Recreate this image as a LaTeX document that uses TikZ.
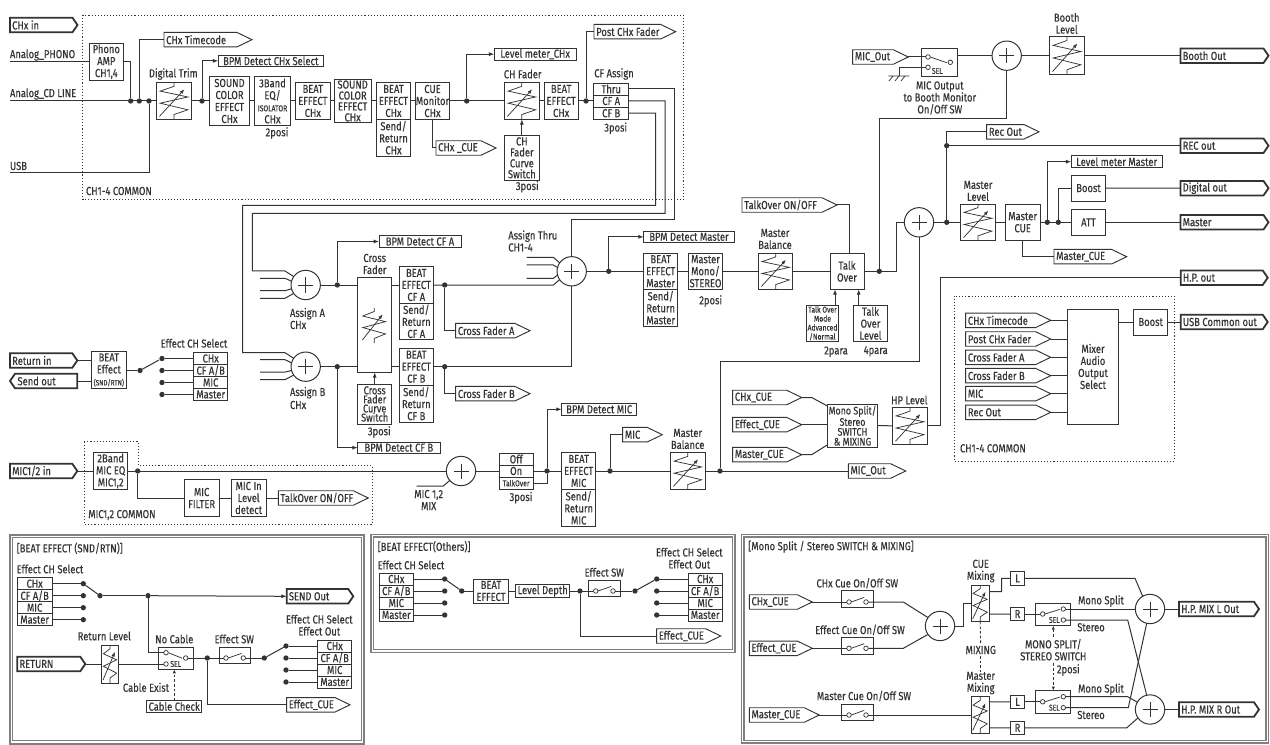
\documentclass[tikz,border=0pt]{standalone}
\usepackage{fontspec}
\setmainfont{Fira Sans}[FakeStretch=0.81,FakeBold=0.25]
\usetikzlibrary{arrows.meta,calc}
\definecolor{ink}{gray}{0.2}
\definecolor{frm}{gray}{0.5}
\newcommand\fn{\fontsize{8.7}{9}\selectfont}
\newcommand\fs{\fontsize{6.3}{6.75}\selectfont}
\newcommand\fa{\fontsize{8.7}{8.2}\selectfont}
\newcommand\fb{\fontsize{8.5}{6.8}\selectfont}
\tikzset{
 every node/.style={font=\fn,text=ink,inner sep=0pt,outer sep=0pt},
 bx/.style={draw=ink,line width=.7pt,fill=white,align=center},
 lb/.style={align=center},
 ln/.style={draw=ink,line width=.75pt},
 ar/.style={ln,-{Latex[length=4pt,width=3pt]}},
 zz/.style={draw=ink,line width=.55pt},
 tgi/.style={draw=ink,line width=.7pt,fill=white,line join=miter},
 tgo/.style={draw=ink,line width=1.35pt,fill=white,line join=miter},
 jn/.style={circle,fill=ink,minimum size=4pt},
 cc/.style={circle,draw=ink,line width=.55pt,fill=white,minimum size=3.4pt},
 sumc/.style={circle,draw=ink,line width=.75pt,fill=white,minimum size=22pt},
 dot/.style={draw=ink,line width=.7pt,dash pattern=on .8pt off 1.5pt},
 dsh/.style={draw=ink,line width=.65pt,dash pattern=on 2pt off 1.5pt},
 frame/.style={draw=frm,line width=.9pt},
}
\newcounter{lbc}
\newcommand\Lb[4][]{\stepcounter{lbc}\node[lb,#1] (lb\arabic{lbc}) at ({#2},{#3}) {#4};}
\newcommand\Bx[7][]{\node[bx,minimum width={((#5)-(#3))*.75pt},minimum height={((#6)-(#4))*.75pt},#1] (#2) at ({((#3)+(#5))/2},{((#4)+(#6))/2}) {#7};}
\newcommand\Zig[4]{\begin{scope}[shift={(#1,#2)},xscale=#3-#1,yscale=#4-#2]
 \draw[zz,line join=miter] (.5,0)--(.5,.1)--(.1,.23)--(.9,.39)--(.1,.56)--(.9,.74)--(.5,.87)--(.5,1);
 \draw[zz,-{Latex[length=3.5pt,width=2.6pt]}] (.08,.92)--(.8,.18);
\end{scope}}
\newcommand\Fdr[5]{\Bx{#1}{#2}{#3}{#4}{#5}{}\Zig{#2}{#3}{#4}{#5}}
% tag pointing right: opt style, name, x1, yc, x2, point length, text
\newcommand\Tag[7][tgi]{\node[minimum width={(#5-#3)*.75pt},minimum height=10.9pt] (#2) at ({(#3+#5)/2},{#4}) {};
 \draw[#1] (#3,#4-7.25)--(#5-#6,#4-7.25)--(#5,#4)--(#5-#6,#4+7.25)--(#3,#4+7.25)--cycle;
 \node[anchor=west] (#2-t) at (#3+2.2,#4) {#7};}
\newcommand\TagI[5]{\Tag[tgi]{#1}{#2}{#3}{#4}{15}{#5}}
\newcommand\TagO[5]{\Tag[tgo]{#1}{#2}{#3}{#4}{5}{#5}}
\newcommand\Jn[3]{\node[jn] (#1) at ({#2},{#3}) {};}
\newcommand\Cc[3]{\node[cc] (#1) at ({#2},{#3}) {};}
\newcommand\Sm[3]{\node[sumc] (#1) at ({#2},{#3}) {};\draw[ln] (#2-7.5,#3)--(#2+7.5,#3) (#2,#3-7.5)--(#2,#3+7.5);}
% selector: prefix,x1,x2,y0
\newcommand\SelB[4]{\Bx{#1a}{#2}{#4}{#3}{#4+12}{CHx}\Bx{#1b}{#2}{#4+12}{#3}{#4+24}{CF A/B}\Bx{#1c}{#2}{#4+24}{#3}{#4+36}{MIC}\Bx{#1d}{#2}{#4+36}{#3}{#4+48}{Master}}
% dots for selector: prefix, xdot, side of box
\newcommand\SelD[3]{\foreach \k in {a,b,c,d}{\node[jn] (#1j\k) at (#1\k.#3 -| #2,0) {};\draw[ln] (#1j\k) -- (#1\k.#3);}}
% plain on/off switch: name,x1,y1,x2,y2,yc,xa,xb
\newcommand\Sw[8]{\Bx{#1}{#2}{#3}{#4}{#5}{}\Cc{#1a}{#7}{#6}\Cc{#1b}{#8}{#6}\draw[zz] (#1a.east)--($(#1b)+(-1.8,-4.6)$);}
\begin{document}
\begin{tikzpicture}[x=.75pt,y=-.75pt]
\useasboundingbox (0,0) rectangle (1270,745);
\fill[white] (0,0) rectangle (1270,745);
% dotted regions
\draw[dot] (82.5,15) rectangle (683.5,199.5);
\draw[dot] (954.7,296) rectangle (1174.3,461);
\draw[dot] (84.3,441.7)--(138.3,441.7)--(138.3,465.7)--(372.3,465.7)--(372.3,524)--(84.3,524)--cycle;
\Lb[anchor=west]{86}{191}{CH1-4 COMMON}
\Lb[anchor=west]{960}{448.3}{CH1-4 COMMON}
\Lb[anchor=west]{88.3}{515}{MIC1,2 COMMON}
%===== top row =====
\TagO{chin}{10}{25}{77.5}{CHx in}
\Lb[anchor=west]{10}{55}{Analog\_PHONO}
\Lb[anchor=west]{10}{94}{Analog\_CD LINE}
\Lb[anchor=west]{10}{166}{USB}
\coordinate (aph) at (10,61.7);\coordinate (acd) at (10,101);\coordinate (aus) at (10,172.3);
\Bx{phono}{89.3}{43.3}{123.3}{80.1}{Phono\\AMP\\CH1,4}
\Lb{173.3}{74}{Digital Trim}
\Fdr{trim}{156.7}{82.7}{191.3}{119.3}
\TagI{tc}{164}{39.7}{252}{CHx Timecode}
\Bx{bpm1}{218.3}{55}{323.3}{66.7}{BPM Detect CHx Select}
\Bx{sc1}{209.7}{76.7}{249.3}{125.3}{SOUND\\COLOR\\EFFECT\\CHx}
\Bx{eq}{254.3}{76.7}{290.7}{125.3}{3Band\\EQ/\\{\fs ISOLATOR}\\CHx}
\Lb{277}{133}{2posi}
\Bx{be1}{295.7}{82.7}{330}{119.3}{BEAT\\EFFECT\\CHx}
\Bx[font=\fa]{sc2}{334.3}{79.3}{371}{122.7}{SOUND\\COLOR\\EFFECT\\CHx}
\Bx{be2}{376.3}{82.7}{410.7}{119.3}{BEAT\\EFFECT\\CHx}
\Bx{sr2}{376.3}{119.3}{410.7}{156}{Send/\\Return\\CHx}
\Bx{cue}{415.3}{82.7}{449.7}{119.3}{CUE\\Monitor\\CHx}
\Bx{lm}{494.3}{48.3}{576}{60}{Level meter\_CHx}
\TagI{chcue}{436}{148}{496}{CHx \_CUE}
\Lb{522.7}{74}{CH Fader}
\Fdr{chf}{504.7}{82.7}{539}{119.3}
\Bx[font=\fa]{curve}{504.7}{135.7}{539}{180}{CH\\Fader\\Curve\\Switch}
\Lb{527.3}{186.7}{3posi}
\Bx{be3}{544}{82.7}{578.3}{119.3}{BEAT\\EFFECT\\CHx}
\TagI{post}{594}{31.7}{675.7}{Post CHx Fader}
\Lb{614}{74}{CF Assign}
\Bx{cft}{593.7}{83}{628.7}{95}{Thru}
\Bx{cfa}{593.7}{95}{628.7}{107}{CF A}
\Bx{cfb}{593.7}{107}{628.7}{119.5}{CF B}
\Lb{615.7}{128.3}{3posi}
\Jn{j1}{130.7}{101}\Jn{j2}{139.3}{101}\Jn{j3}{149}{101}\Jn{j4}{202}{101}\Jn{j5}{466.7}{101}\Jn{j6}{586}{101}
\draw[ln] (aph)--(phono.west);
\draw[ln] (acd)--(trim.west);
\draw[ln] (phono.east)-|(j1);
\draw[ln] (j2)|-(tc.west);
\draw[ln] (aus)-|(j3);
\draw[ln] (trim.east)--(sc1.west);
\draw[ar] (j4)|-(bpm1.west);
\draw[ln] (sc1.east)--(eq.west);
\draw[ln] (eq.east)--(be1.west);
\draw[ln] (be1.east)--(sc2.west);
\draw[ln] (sc2.east)--(be2.west);
\draw[ln] (be2.east)--(cue.west);
\draw[ln] (cue.east)--(chf.west);
\draw[ar] (j5)|-(lm.west);
\draw[ln] (cue.south)|-(chcue.west);
\draw[ar] (curve.north)--(chf.south);
\draw[ln] (chf.east)--(be3.west);
\draw[ln] (be3.east)--(cfa.west);
\draw[ln] (j6)|-(post.west);
%===== second row =====
\Sm{sa}{305.7}{285}\Sm{sb}{305.7}{366.7}\Sm{st}{571.7}{271.3}
\draw[ln] (cft.east)-|(674,220)-|(st.north);
\draw[ln] (cfa.east)-|(665,213.3)-|(252.3,271)--(285,271)--(sa.145);
\draw[ln] (cfb.east)-|(655.7,205.3)-|(242.7,352.7)--(285,352.7)--(sb.145);
\draw[ln] (260,278.3)--(285,278.3)--(sa.165);
\draw[ln] (260,290.7)--(285,290.7)--(sa.195);
\draw[ln] (260,298.3)--(285,298.3)--(sa.215);
\draw[ln] (260,359.7)--(285,359.7)--(sb.165);
\draw[ln] (260,372.1)--(285,372.1)--(sb.195);
\draw[ln] (260,379.7)--(285,379.7)--(sb.215);
\draw[ln] (526.7,257.3)--(553.3,257.3)--(st.145);
\draw[ln] (526.7,265)--(553.3,265)--(st.165);
\draw[ln] (526.7,278.3)--(553.3,278.3)--(st.195);
\Lb[anchor=west,align=left]{290}{318.5}{Assign A\\CHx}
\Lb[anchor=west]{290}{392.7}{Assign B}
\Lb[anchor=west]{290}{405}{CHx}
\Lb[anchor=west,align=left]{508.3}{241}{Assign Thru\\CH1-4}
\Lb{374.7}{264}{Cross\\Fader}
\Bx{cross}{357.7}{277.3}{391.7}{372.3}{}
\Zig{360}{308}{388.3}{343}
\Bx[font=\fb]{ccs}{357.7}{384}{391.7}{424}{Cross\\Fader\\Curve\\Switch}
\Lb{379.3}{432}{3posi}
\Bx{bpma}{379}{235.7}{461}{247.3}{BPM Detect CF A}
\Bx{bpmb}{357.7}{442}{440}{453.3}{BPM Detect CF B}
\Bx{ba}{399.3}{266.7}{433.3}{303.3}{BEAT\\EFFECT\\CF A}
\Bx{sra}{399.3}{303.3}{433.3}{339.3}{Send/\\Return\\CF A}
\Bx{bb}{399.3}{348.4}{433.3}{385}{BEAT\\EFFECT\\CF B}
\Bx{srb}{399.3}{385}{433.3}{422}{Send/\\Return\\CF B}
\TagI{cfta}{455.7}{330.7}{530}{Cross Fader A}
\TagI{cftb}{455.7}{393.7}{530}{Cross Fader B}
\Jn{ja}{337.3}{285}\Jn{jb}{337.3}{366.7}\Jn{jca}{444.7}{285}\Jn{jcb}{444.7}{366.7}\Jn{jm1}{608.7}{271.3}
\draw[ln] (sa.east)--(sa.east-|cross.west);
\draw[ln] (sb.east)--(sb.east-|cross.west);
\draw[ar] (ja)|-(bpma.west);
\draw[ar] (jb)|-(bpmb.west);
\draw[ar] (ccs.north)--(cross.south);
\draw[ln] (cross.east|-ba.west)--(ba.west);
\draw[ln] (cross.east|-bb.west)--(bb.west);
\draw[ln] (ba.east)--(553.3,285)--(st.215);
\draw[ln] (bb.east)-|(st.south);
\draw[ln] (jca)|-(cfta.west);
\draw[ln] (jcb)|-(cftb.west);
\Bx{bpmm}{643.7}{231}{734.3}{242.7}{BPM Detect Master}
\Bx{bm}{643.7}{253.3}{677.7}{289.3}{BEAT\\EFFECT\\Master}
\Bx{srm}{643.7}{289.3}{677.7}{326}{Send/\\Return\\Master}
\Bx{mono}{688.3}{253.3}{722.7}{289.3}{Master\\Mono/\\STEREO}
\Lb{710.7}{301}{2posi}
\Lb{775}{239}{Master\\Balance}
\Fdr{mbal}{758.7}{253.3}{792.7}{289.3}
\Bx{over}{830}{253.3}{864}{289.3}{Talk\\Over}
\TagI{tooo}{742}{205}{837}{TalkOver ON/OFF}
\Bx[font=\fs]{tom}{806.7}{305}{838.3}{341.7}{Talk Over\\Mode\\Advanced\\/Normal}
\Lb{836}{351.7}{2para}
\Bx{tol}{853.3}{305}{887.7}{341.7}{Talk\\Over\\Level}
\Lb{875.7}{351.3}{4para}
\Jn{jt}{879.3}{271.3}
\draw[ln] (st.east)--(bm.west);
\draw[ar] (jm1)|-(bpmm.west);
\draw[ln] (bm.east)--(mono.west);
\draw[ln] (mono.east)--(mbal.west);
\draw[ln] (mbal.east)--(over.west);
\draw[ln] (tooo.east)-|(over.north-|849,0);
\draw[ar] (tom.north-|835,0)--(over.south-|835,0);
\draw[ar] (tol.north-|858.7,0)--(over.south-|858.7,0);
%===== booth / master =====
\TagI{mico}{852.7}{57}{908.3}{MIC\_Out}
\Bx{bsw}{921.3}{48.3}{957.3}{76.7}{}
\Cc{bswa}{928}{57}\Cc{bswb}{950.3}{62.3}\Cc{bswc}{928}{67.3}
\draw[zz] (bswa.east)--($(bswb)+(-3.6,.4)$);
\node[font=\fs] (bsel) at (937.3,71) {SEL};
\Lb{939.8}{98}{MIC Output\\to Booth Monitor\\On/Off SW}
\coordinate (gnd) at (899.3,76);
\draw[ln] (bswc.west)-|(gnd);
\draw[zz] (888.3,76)--(909.3,76) (889,81)--(893,76) (895,81)--(899,76) (901,81)--(905,76);
\Sm{bsum}{1006.7}{55.7}
\Lb{1066.7}{23.4}{Booth\\Level}
\Fdr{blev}{1049.7}{36.7}{1084.3}{74.7}
\TagO{bout}{1180.5}{55.7}{1268.5}{Booth Out}
\draw[ln] (mico.east)--(bswa.west);
\draw[ln] (bsw.east|-bsum.west)--(bsum.west);
\draw[ln] (bsum.east)--(blev.west);
\draw[ln] (blev.east)--(bout.west);
\Sm{ms}{919}{222.3}
\Lb{978}{191}{Master\\Level}
\Fdr{mlev}{960.7}{204}{995.3}{240.6}
\Bx{mcue}{1005.3}{204}{1040}{240.6}{Master\\CUE}
\TagI{reco}{986.7}{131.8}{1039}{Rec Out}
\TagO{recb}{1180.5}{145.7}{1268.5}{REC out}
\Bx{lmm}{1071.3}{155.7}{1162}{167.7}{Level meter Master}
\Bx{boost}{1071.3}{175}{1105.7}{201.3}{Boost}
\Bx{att}{1071.3}{209.3}{1105.7}{235.3}{ATT}
\TagO{dig}{1180.5}{188.2}{1268.5}{Digital out}
\TagO{mast}{1180.5}{222.3}{1268.5}{Master}
\TagI{mcu}{1054}{256.7}{1126.7}{Master\_CUE}
\Jn{jr}{946.7}{222.3}\Jn{jrec}{946.7}{145.7}\Jn{jb1}{1047.3}{222.3}\Jn{jb2}{1058.3}{222.3}
\draw[ln] (over.east)-|(896,222.3)--(ms.west);
\draw[ln] (jt)|-(1006.7,119)--(bsum.south);
\draw[ln] (ms.east)--(mlev.west);
\draw[ln] (jr)--(jrec);
\draw[ln] (jrec)|-(reco.west);
\draw[ln] (jrec)--(recb.west);
\draw[ln] (mlev.east)--(mcue.west);
\draw[ln] (mcue.east)--(att.west);
\draw[ar] (jb1)|-(lmm.west);
\draw[ln] (jb2)|-(boost.west);
\draw[ln] (boost.east)--(dig.west);
\draw[ln] (att.east)--(mast.west);
\draw[ln] (mcue.south)|-(mcu.west);
%===== effect select left =====
\TagO{retin}{10}{360.5}{77.3}{Return in}
\draw[tgo] (15,373.8)--(77.3,373.8)--(77.3,388.3)--(15,388.3)--(10,381)--cycle;
\node[minimum width=50pt,minimum height=10.9pt] (sndo) at (43.6,381) {};
\node[anchor=west] (sndo-t) at (17.5,381) {Send out};
\Bx[font=\fn]{bfx}{91.7}{351.7}{126}{388.3}{BEAT\\Effect\\{\fontsize{5.8}{6.75}\selectfont(SND/RTN)}}
\Lb{194}{343.3}{Effect CH Select}
\SelB{ecs}{193.7}{227.7}{352.5}
\SelD{ecs}{162}{west}
\Jn{jfx}{140}{370.5}
\draw[ln] (retin.east)--(bfx.west|-retin.east);
\draw[ln] (sndo.east)--(bfx.west|-sndo.east);
\draw[ln] (bfx.east|-jfx)--(jfx);
\draw[ln] (jfx)--(159,360);
%===== MIC row =====
\TagO{micin}{10}{471}{77.3}{MIC1/2 in}
\Bx{eq2}{93.7}{452.7}{127.7}{489.3}{2Band\\MIC EQ\\MIC1,2}
\Bx{flt}{184.3}{479.3}{219}{516.7}{MIC\\FILTER}
\Bx{det}{231.3}{479.3}{266}{516.7}{MIC In\\Level\\detect}
\TagI{too2}{278.3}{498}{368.3}{TalkOver ON/OFF}
\Sm{sm}{461}{471}
\Lb{428.7}{500}{MIC 1,2\\MIX}
\coordinate (mstub) at (416.7,486);
\Bx{off}{499}{453}{533.3}{465}{Off}
\Bx{on}{499}{465}{533.3}{477}{On}
\Bx[font=\fs]{tko}{499}{477}{533.3}{489.3}{TalkOver}
\Lb{521}{497.7}{3posi}
\Bx{bpmc}{561.7}{403.3}{636.7}{415.3}{BPM Detect MIC}
\Bx{bmic}{561.7}{452.7}{595.7}{489.3}{BEAT\\EFFECT\\MIC}
\Bx{srmic}{561.7}{489.3}{595.7}{526.3}{Send/\\Return\\MIC}
\TagI{mict}{622.7}{434.7}{662.3}{MIC}
\Lb{687.7}{439}{Master\\Balance}
\Fdr{mb2}{670.7}{452.7}{705}{489.3}
\TagI{mico2}{848.3}{471}{905.7}{MIC\_Out}
\Jn{jeq}{137.7}{471}\Jn{jo}{547}{471}\Jn{jmic}{610}{471}\Jn{jm}{720}{471}
\draw[ln] (micin.east)--(eq2.west);
\draw[ln] (eq2.east)--(sm.west);
\draw[ln] (jeq)|-(flt.west);
\draw[ln] (flt.east)--(det.west);
\draw[ln] (det.east)--(too2.west);
\draw[ln] (mstub)--(443.3,486)--(sm.220);
\draw[ln] (sm.east)--(on.west);
\draw[ln] (on.east)--(bmic.west);
\draw[ln] (tko.east)-|(jo);
\draw[ar] (jo)|-(bpmc.west);
\draw[ln] (bmic.east)--(mb2.west);
\draw[ln] (jmic)|-(mict.west);
\draw[ln] (mb2.east)--(mico2.west);
\draw[ln] (ms.south)|-(720,361.7)--(jm);
%===== HP =====
\TagI{c1}{732.7}{397.5}{801.7}{CHx\_CUE}
\TagI{c2}{732.7}{424.7}{801.7}{Effect\_CUE}
\TagI{c3}{732.7}{454.7}{801.7}{Master\_CUE}
\Bx[font=\fontsize{8.2}{7.4}\selectfont]{msm}{827.3}{404}{877.7}{447.3}{Mono Split/\\Stereo\\SWITCH\\\& MIXING}
\Lb{909.3}{400}{HP Level}
\Fdr{hpl}{892.7}{407.5}{927.3}{444.1}
\TagO{hpo}{1180.7}{277.7}{1267.7}{H.P. out}
\draw[ln] (c1.east)--(811.7,397.5)--($(msm.west)+(0,-19.7)$);
\draw[ln] (c2.east)--(msm.west|-c2.east);
\draw[ln] (c3.east)--(811.7,454.7)--($(msm.west)+(0,19.3)$);
\draw[ln] (msm.east)--(hpl.west);
\draw[ln] (hpl.east)-|(940.7,277.7)--(hpo.west);
%===== Audio output select =====
\Bx{mx}{1067.7}{309}{1118.3}{424}{Mixer\\Audio\\Output\\Select}
\TagI{a1}{965.7}{320.3}{1050.7}{CHx Timecode}
\TagI{a2}{965.7}{339}{1050.7}{Post CHx Fader}
\TagI{a3}{965.7}{357.3}{1050.7}{Cross Fader A}
\TagI{a4}{965.7}{375.7}{1050.7}{Cross Fader B}
\TagI{a5}{965.7}{393.7}{1050.7}{MIC}
\TagI{a6}{965.7}{412.3}{1050.7}{Rec Out}
\foreach \k in {a1,a2,a3,a4,a5,a6}{\draw[ln] (\k.east)--(\k.east-|mx.west);}
\Bx{bo2}{1133.7}{309}{1167.7}{335}{Boost}
\TagO{usb}{1180.7}{322}{1267.7}{USB Common out}
\draw[ln] (mx.east|-bo2.west)--(bo2.west);
\draw[ln] (bo2.east)--(usb.west);
%===== panel frames =====
\draw[frame] (10,535) rectangle (364,744);\draw[frame] (12.7,537.3) rectangle (361.7,740.7);
\draw[frame] (371,534.3) rectangle (735,652.3);\draw[frame] (373.5,537) rectangle (732.5,649.5);
\draw[frame] (741.5,534.3) rectangle (1268.5,743);\draw[frame] (744,537) rectangle (1266,740.3);
%===== panel 1 =====
\Lb[anchor=west]{16.7}{548.3}{[BEAT EFFECT (SND/RTN)]}
\Lb[anchor=west]{16.7}{569}{Effect CH Select}
\SelB{pa}{17.3}{52}{577.7}
\SelD{pa}{83.3}{east}
\Jn{pao}{100}{595.7}\Jn{pas}{148}{595.7}
\draw[ln] (paja)--(pao);
\draw[ln] (pao)--(pas);
\TagO{send}{286.7}{596.3}{353.3}{SEND Out}
\draw[ar] (pas)--(send.west);
\Lb{104.3}{636}{Return Level}
\Fdr{rl}{101.7}{645}{118.3}{683}
\TagO{ret}{17.3}{664}{85.3}{RETURN}
\Lb{174.3}{639}{No Cable}
\Bx{ns}{158.3}{647.3}{193.3}{669.3}{}
\Cc{nsa}{166}{652.7}\Cc{nsb}{185.7}{658}\Cc{nsc}{166}{664}
\draw[zz] (nsa.east)--($(nsb)+(-3.6,.2)$);
\node[font=\fs] (nss) at (175.7,664) {SEL};
\Lb{234.3}{639}{Effect SW}
\Sw{es1}{219}{647.3}{250.3}{663.7}{658}{226}{243.3}
\Jn{jp1}{207.3}{658}\Jn{jp2}{264.3}{658}
\Lb{319.3}{625.2}{Effect CH Select\\Effect Out}
\SelB{pb}{317.7}{351.7}{640}
\SelD{pb}{286}{west}
\Lb{146}{687.3}{Cable Exist}
\Bx{cch}{146.7}{700.7}{201.7}{712}{Cable Check}
\TagI{pcue}{286.7}{704.8}{350}{Effect\_CUE}
\draw[ln] (pas)|-(nsa.west);
\draw[ln] (ret.east)--(rl.west);
\draw[ln] (rl.east)--(nsc.west);
\draw[ln] (nsb.east)--(es1a.west);
\draw[ln] (es1b.east)--(jp2);
\draw[ln] (jp2)--(pbja);
\draw[ln] (jp1)|-(pcue.west);
\draw[dsh,-{Latex[length=3pt,width=2.4pt]}] (cch.north-|174.3,0)--(ns.south-|174.3,0);
%===== panel 2 =====
\Lb[anchor=west]{377.7}{546.7}{[BEAT EFFECT(Others)]}
\Lb[anchor=west]{377.7}{565}{Effect CH Select}
\SelB{qa}{379.3}{413.3}{573}
\SelD{qa}{444.7}{east}
\Jn{qo}{461.7}{591}
\Bx{qbe}{473.7}{579}{508.3}{603}{BEAT\\EFFECT}
\Bx{qld}{515.7}{584.5}{569.7}{597.5}{Level Depth}
\Jn{jq1}{580}{591}\Jn{jq2}{635}{591}
\Lb{604.3}{572.3}{Effect SW}
\Sw{es2}{588.3}{580}{620.7}{596.7}{591}{595.7}{613}
\Lb{689.3}{558.2}{Effect CH Select\\Effect Out}
\SelB{qb}{688}{722.3}{573}
\SelD{qb}{656.7}{west}
\TagI{qcue}{656.7}{636}{720.7}{Effect\_CUE}
\draw[ln] (qaja)--(qo);
\draw[ln] (qo)--(qbe.west);
\draw[ln] (qbe.east)--(qld.west);
\draw[ln] (qld.east)--(es2a.west);
\draw[ln] (es2b.east)--(jq2);
\draw[ln] (jq2)--(qbja);
\draw[ln] (jq1)|-(qcue.west);
%===== panel 3 =====
\Lb[anchor=west]{748.3}{546.7}{[Mono Split / Stereo SWITCH \& MIXING]}
\TagI{r1}{749.3}{602}{812.3}{CHx\_CUE}
\TagI{r2}{749.3}{648.3}{812.3}{Effect\_CUE}
\Tag{r3}{749.3}{715}{819.3}{15}{Master\_CUE}
\Lb{857.3}{583.3}{CHx Cue On/Off SW}
\Lb{860}{630}{Effect Cue On/Off SW}
\Lb{864}{696}{Master Cue On/Off SW}
\Sw{t1}{841.7}{590.7}{873.3}{607.3}{602}{849}{866}
\Sw{t2}{841.7}{637.3}{873.3}{654}{648.3}{849}{866}
\Sw{t3}{841.7}{704}{873.3}{720.7}{715}{849}{866}
\Sm{cs}{940}{626}
\Lb{980.7}{571}{CUE\\Mixing}
\Fdr{cm}{971.3}{585}{989}{621.7}
\Lb{980.7}{650}{MIXING}
\Lb{980.7}{683}{Master\\Mixing}
\Fdr{mm}{971.3}{696.7}{989}{733.3}
\Bx{l1}{1010.7}{571.7}{1024.3}{585}{L}
\Bx{r1b}{1010.7}{607.7}{1024.3}{620.3}{R}
\Bx{l2}{1010.7}{695.3}{1024.3}{708.3}{L}
\Bx{r2b}{1010.7}{721.7}{1024.3}{734}{R}
\Bx{s1}{1035.7}{603.3}{1070.7}{625.7}{}
\Cc{s1i}{1042.7}{614}\Cc{s1t}{1063.3}{609}\Cc{s1s}{1063.3}{620}
\draw[zz] (s1i.east)--($(s1t)+(-3.6,.4)$);
\node[font=\fs] (s1l) at (1054.3,620) {SEL};
\Bx{s2}{1035.7}{690.7}{1070.7}{713.3}{}
\Cc{s2i}{1042.7}{701.8}\Cc{s2t}{1063.3}{696.7}\Cc{s2s}{1063.3}{707.7}
\draw[zz] (s2i.east)--($(s2t)+(-3.6,.4)$);
\node[font=\fs] (s2l) at (1054.3,707.7) {SEL};
\Lb{1101}{601}{Mono Split}
\Lb{1091}{627.3}{Stereo}
\Lb{1101}{689.3}{Mono Split}
\Lb{1091}{715}{Stereo}
\Lb{1053.3}{649.7}{MONO SPLIT/\\STEREO SWITCH}
\Lb{1068.3}{670}{2posi}
\Sm{mx1}{1150}{609}\Sm{mx2}{1150}{709.5}
\TagO{ol}{1179}{609}{1259}{H.P. MIX L Out}
\TagO{or}{1179}{709.5}{1259}{H.P. MIX R Out}
\draw[ln] (r1.east)--(t1a.west);
\draw[ln] (r2.east)--(t2a.west);
\draw[ln] (r3.east)--(t3a.west);
\draw[ln] (t1b.east)--(903.3,602)--(cs.145);
\draw[ln] (t2b.east)--(903.3,648.3)--(cs.215);
\draw[ln] (t3b.east)--(mm.west);
\draw[ln] (cs.east)--(963.3,626)|-(cm.west);
\draw[dsh] (cm.south)--(980.7,644);
\draw[dsh] (980.7,656)--(980.7,671.5);
\draw[ln] ($(cm.east)+(0,-11.7)$)-|(1001.7,578.3)--(l1.west);
\draw[ln] ($(cm.east)+(0,10.65)$)--(r1b.west);
\draw[ln] ($(mm.east)+(0,-13.2)$)--(l2.west);
\draw[ln] ($(mm.east)+(0,12.85)$)--(r2b.west);
\draw[ln] (r1b.east)--(s1i.west);
\draw[ln] (l2.east)--(s2i.west);
\draw[ln] (s1t.east)--(mx1.west);
\draw[ln] (s1s.east)--(1127.7,620)--(mx2.103);
\draw[ln] (l1.east)--(1135,578.3)--(mx1.120);
\draw[ln] (s2t.east)--(1127.7,696.7)--(mx2.150);
\draw[ln] (s2s.east)--(1128.3,707.7)--(mx1.257);
\draw[ln] (r2b.east)--(1126.7,727.85)--(mx2.215);
\draw[ln] (mx1.east)--(ol.west);
\draw[ln] (mx2.east)--(or.west);
\draw[dsh,-{Latex[length=3pt,width=2.4pt]}] (1053.3,637)--(s1.south-|1053.3,0);
\draw[dsh,-{Latex[length=3pt,width=2.4pt]}] (1053.3,663.3)--(s2.north-|1053.3,0);
\end{tikzpicture}
\end{document}
